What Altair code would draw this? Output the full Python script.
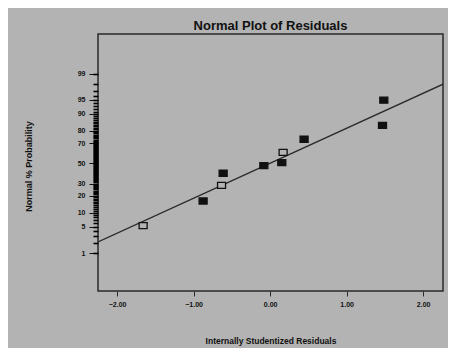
import altair as alt
import pandas as pd
from statistics import NormalDist

# ---- data ----
residuals = [-1.66, -0.876, -0.635, -0.614, -0.082, 0.153, 0.170, 0.444, 1.469, 1.486]
normal_pct = [5.3, 16.4, 28.4, 39.8, 47.5, 50.6, 61.2, 73.3, 83.7, 94.9]
marker = ["open", "filled", "open", "filled", "filled", "filled", "open", "filled", "filled", "filled"]

line_x = [-2.25, 2.26]
line_pct = [2.07, 97.98]

x_ticks = [-2, -1, 0, 1, 2]
y_major_pct = [1, 5, 10, 20, 30, 50, 70, 80, 90, 95, 99]
y_minor_pct = list(range(1, 100))

nd = NormalDist()
major_z = [nd.inv_cdf(p / 100) for p in y_major_pct]
minor_z = [nd.inv_cdf(p / 100) for p in y_minor_pct]

pts = pd.DataFrame({"res": residuals, "pct": normal_pct, "marker": marker})
ln = pd.DataFrame({"res": line_x, "pct": line_pct})

BG = "#b3b3b3"
INK = "#2a2a2a"
FONT = "Liberation Sans"

x_scale = alt.Scale(domain=[-2.25, 2.26], nice=False, zero=False)
y_scale = alt.Scale(domain=[-3.31, 3.35], nice=False, zero=False)

x_axis = alt.Axis(
    values=x_ticks, format=".2f", grid=False, domain=False,
    tickSize=5, tickColor=INK, tickWidth=1,
    labelFont=FONT, labelFontSize=7, labelFontWeight="bold", labelColor="#111",
    labelPadding=4, labelFlush=False, labelOverlap=False,
    title="Internally Studentized Residuals", titleFont=FONT, titleFontSize=8.5,
    titleFontWeight="bold", titleColor="#111",
    titleX=172.5, titleY=49, titleBaseline="middle", titleAlign="center",
)

y_axis_major = alt.Axis(
    orient="left", values=major_z, grid=False, domain=False,
    tickSize=9, tickColor="#111", tickWidth=1,
    labelExpr="format(round(cumulativeNormal(datum.value)*100), 'd')",
    labelFont=FONT, labelFontSize=7, labelFontWeight="bold", labelColor="#111",
    labelPadding=4, labelFlush=False, labelOverlap=False, labelBound=False,
    title="Normal % Probability", titleFont=FONT, titleFontSize=9,
    titleFontWeight="bold", titleColor="#111",
    titleX=-70, titleY=132, titleAngle=270, titleBaseline="middle", titleAlign="center",
)

y_axis_minor = alt.Axis(
    orient="left", values=minor_z, grid=False, domain=False,
    tickSize=5, tickColor="#000", tickWidth=1.6,
    labels=False, title=None,
)

line = alt.Chart(ln).transform_calculate(
    z="quantileNormal(datum.pct/100)"
).mark_line(color=INK, strokeWidth=1.3, clip=True).encode(
    x=alt.X("res:Q", scale=x_scale, axis=x_axis),
    y=alt.Y("z:Q", scale=y_scale, axis=y_axis_major),
)

points = alt.Chart(pts).transform_calculate(
    z="quantileNormal(datum.pct/100)"
).mark_point(
    shape="M-1,-0.75L1,-0.75L1,0.75L-1,0.75Z", size=64, filled=False,
    stroke="#111", strokeWidth=1.3, opacity=1,
).encode(
    x=alt.X("res:Q", scale=x_scale, axis=x_axis),
    y=alt.Y("z:Q", scale=y_scale, axis=y_axis_minor),
    fill=alt.Fill("marker:N", scale=alt.Scale(domain=["open", "filled"], range=[BG, "#111"]), legend=None),
)

chart = alt.layer(line, points).resolve_axis(y="independent").properties(
    width=345, height=257,
    autosize=alt.AutoSizeParams(type="none"),
    padding={"left": 90, "top": 26, "right": 5, "bottom": 57},
    background=BG,
    title=alt.TitleParams(
        "Normal Plot of Residuals", font=FONT, fontSize=13, fontWeight="bold",
        color="#111", anchor="middle", baseline="alphabetic", offset=4, frame="group",
        dy=13,
    ),
).configure_view(stroke=INK, strokeWidth=1.5, fill=BG)

chart.save("out.html", embed_options={"renderer": "svg", "actions": False})
